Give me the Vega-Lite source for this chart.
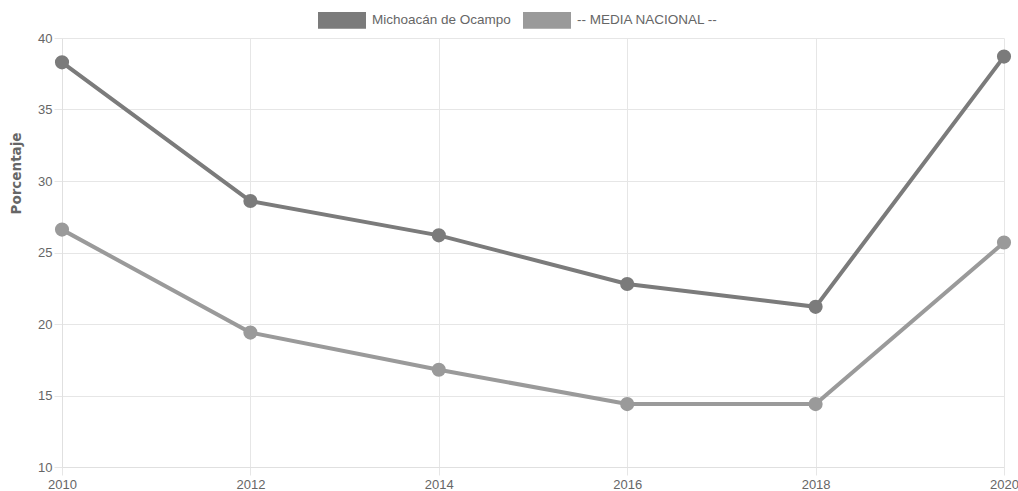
{
  "$schema": "https://vega.github.io/schema/vega-lite/v6.json",
  "width": 942,
  "height": 429,
  "autosize": {"type": "none"},
  "padding": {"left": 62, "top": 38, "right": 14, "bottom": 24},
  "background": "white",
  "data": {
    "values": [
      {"year": 2010, "serie": "Michoacán de Ocampo", "value": 38.3},
      {"year": 2012, "serie": "Michoacán de Ocampo", "value": 28.6},
      {"year": 2014, "serie": "Michoacán de Ocampo", "value": 26.2},
      {"year": 2016, "serie": "Michoacán de Ocampo", "value": 22.8},
      {"year": 2018, "serie": "Michoacán de Ocampo", "value": 21.2},
      {"year": 2020, "serie": "Michoacán de Ocampo", "value": 38.7},
      {"year": 2010, "serie": "-- MEDIA NACIONAL --", "value": 26.6},
      {"year": 2012, "serie": "-- MEDIA NACIONAL --", "value": 19.4},
      {"year": 2014, "serie": "-- MEDIA NACIONAL --", "value": 16.8},
      {"year": 2016, "serie": "-- MEDIA NACIONAL --", "value": 14.4},
      {"year": 2018, "serie": "-- MEDIA NACIONAL --", "value": 14.4},
      {"year": 2020, "serie": "-- MEDIA NACIONAL --", "value": 25.7}
    ]
  },
  "encoding": {
    "x": {
      "field": "year", "type": "quantitative",
      "scale": {"domain": [2010, 2020], "nice": false, "zero": false},
      "axis": {
        "values": [2010, 2012, 2014, 2016, 2018, 2020],
        "format": "d", "title": null,
        "grid": true, "gridColor": "#e6e6e6",
        "domainColor": "#e0e0e0", "tickColor": "#e6e6e6", "tickSize": 8,
        "labelColor": "#666666", "labelFont": "Liberation Sans", "labelFontSize": 13,
        "labelPadding": 3, "labelFlush": false
      }
    },
    "y": {
      "field": "value", "type": "quantitative",
      "scale": {"domain": [10, 40], "nice": false, "zero": false},
      "axis": {
        "values": [10, 15, 20, 25, 30, 35, 40],
        "title": "Porcentaje",
        "titleFont": "DejaVu Sans", "titleFontSize": 13.5, "titleFontWeight": "bold",
        "titleColor": "#666666", "titleX": -39, "titleY": 135,
        "grid": true, "gridColor": "#e6e6e6",
        "domainColor": "#e0e0e0", "tickColor": "#e6e6e6", "tickSize": 8,
        "labelColor": "#666666", "labelFont": "Liberation Sans", "labelFontSize": 13,
        "labelPadding": 2
      }
    },
    "color": {
      "field": "serie", "type": "nominal",
      "scale": {
        "domain": ["Michoacán de Ocampo", "-- MEDIA NACIONAL --"],
        "range": ["#7b7b7b", "#9a9a9a"]
      },
      "legend": {
        "title": null,
        "orient": "none",
        "legendX": 256,
        "legendY": -42,
        "direction": "horizontal",
        "symbolType": "M-1,-0.35H1V0.35H-1Z",
        "symbolSize": 2304,
        "symbolStrokeWidth": 0,
        "symbolOpacity": 1,
        "labelFont": "Liberation Sans",
        "labelFontSize": 13.5,
        "labelColor": "#666666",
        "columnPadding": 12,
        "labelOffset": 6
      }
    }
  },
  "layer": [
    {"mark": {"type": "line", "strokeWidth": 4}},
    {"mark": {"type": "point", "filled": true, "size": 200, "opacity": 1}}
  ],
  "config": {"view": {"stroke": null}}
}
